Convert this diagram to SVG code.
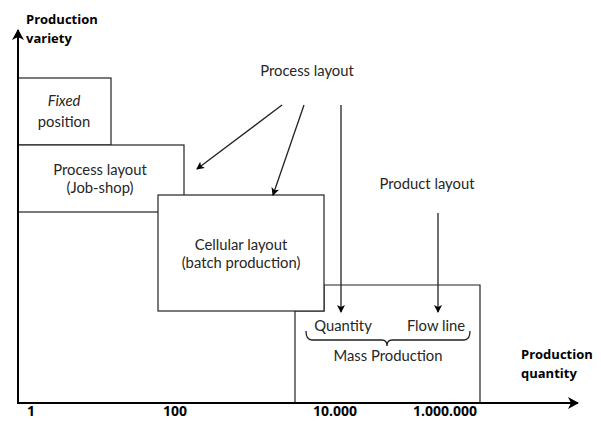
<svg xmlns="http://www.w3.org/2000/svg" width="601" height="421" viewBox="0 0 601 421">
<defs>
<marker id="ah" markerWidth="8" markerHeight="8" refX="7" refY="4" orient="auto" markerUnits="userSpaceOnUse"><path d="M0,0 L8,4 L0,8 L2,4 Z" fill="#000"/></marker>
<marker id="axh" markerWidth="12" markerHeight="12" refX="10" refY="6" orient="auto" markerUnits="userSpaceOnUse"><path d="M0,0 L11,6 L0,12 L3,6 Z" fill="#000"/></marker>
</defs>
<style>
.box{fill:#fff;stroke:#222;stroke-width:1.2}
.t{font-family:Lato,"Liberation Sans",sans-serif;font-size:14.8px;fill:#262626;text-anchor:middle}
.b{font-family:"Open Sans","Liberation Sans",sans-serif;font-size:13px;font-weight:bold;fill:#000}
.n{font-family:"Open Sans","Liberation Sans",sans-serif;font-size:14px;font-weight:bold;fill:#000}
.ax{stroke:#000;stroke-width:2;fill:none}
.ln{stroke:#222;stroke-width:1.3;fill:none}
</style>
<rect width="601" height="421" fill="#fff"/>
<g id="mass-production">
<path class="box" d="M295,403 L295,311 L324,311 L324,285 L480,285 L480,403"/>
<text class="t" x="343" y="331">Quantity</text>
<text class="t" x="436" y="331">Flow line</text>
<path class="ln" d="M306,331 Q306,340 312,340 L382,340 Q387,340 387,346 Q387,340 392,340 L464,340 Q470,340 470,331" stroke-width="1"/>
<text class="t" x="388" y="361">Mass Production</text>
</g>
<g id="fixed-position">
<rect class="box" x="18" y="78" width="93" height="67"/>
<text class="t" x="64" y="106" font-style="italic">Fixed</text>
<text class="t" x="64" y="127">position</text>
</g>
<g id="process-layout-box">
<rect class="box" x="18" y="145" width="166" height="67"/>
<text class="t" x="100" y="175">Process layout</text>
<text class="t" x="100" y="193">(Job-shop)</text>
</g>
<g id="cellular-layout">
<rect class="box" x="158" y="195" width="166" height="116"/>
<text class="t" x="241" y="250">Cellular layout</text>
<text class="t" x="241" y="268">(batch production)</text>
</g>
<g id="process-layout-label">
<text class="t" x="307" y="76">Process layout</text>
</g>
<g id="product-layout-label">
<text class="t" x="427" y="189">Product layout</text>
</g>
<g id="connectors">
<line class="ln" x1="282" y1="105" x2="197" y2="169" marker-end="url(#ah)"/>
<line class="ln" x1="304" y1="105" x2="273" y2="195" marker-end="url(#ah)"/>
<line class="ln" x1="341" y1="105" x2="341" y2="312" marker-end="url(#ah)"/>
<line class="ln" x1="438" y1="213" x2="438" y2="312" marker-end="url(#ah)"/>
</g>
<g id="axes">
<line class="ax" x1="18" y1="404" x2="18" y2="30" marker-end="url(#axh)"/>
<line class="ax" x1="17" y1="403" x2="578" y2="403" marker-end="url(#axh)"/>
<text class="b" x="26" y="24">Production</text>
<text class="b" x="26" y="43">variety</text>
<text class="b" x="521" y="359">Production</text>
<text class="b" x="521" y="378">quantity</text>
<text class="n" x="27" y="416">1</text>
<text class="n" x="163" y="416">100</text>
<text class="n" x="313" y="416">10.000</text>
<text class="n" x="413" y="416">1.000.000</text>
</g>
</svg>
